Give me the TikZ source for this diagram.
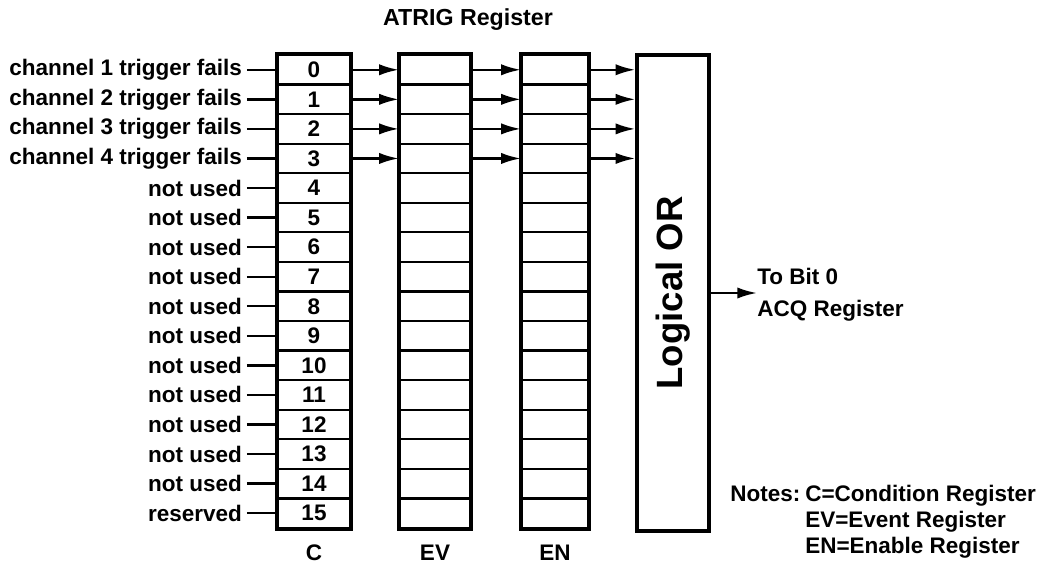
\documentclass[tikz,border=0pt]{standalone}
\usepackage{fontspec}
\setmainfont{Liberation Sans}
\usetikzlibrary{arrows.meta,positioning}

\begin{document}
\begin{tikzpicture}[x=0.025cm,y=-0.025cm,>={Latex[length=14pt,width=8pt]},
    txt/.style={font=\bfseries\fontsize{16}{19}\selectfont},
    cell/.style={draw,line width=1.6pt,inner sep=0pt,minimum width=#1,minimum height=0.739cm,txt},
    frame/.style={line width=2.4pt},
    link/.style={->,line width=1.7pt}]
  \useasboundingbox (0,0) rectangle (1046,570);
  \node[font=\bfseries\fontsize{16.5}{20}\selectfont] (title) at (468,20) {ATRIG Register};
  % the three registers
  \foreach \i in {0,...,15}{
    \node[cell=1.8cm] (c\i) at (314,{55+29.56*(\i+0.5)}) {\i};
    \node[cell=1.75cm] (ev\i) at (435,{55+29.56*(\i+0.5)}) {};
    \node[cell=1.65cm] (en\i) at (555,{55+29.56*(\i+0.5)}) {};
  }
  \draw[frame] (c0.north west) rectangle (c15.south east);
  \draw[frame] (ev0.north west) rectangle (ev15.south east);
  \draw[frame] (en0.north west) rectangle (en15.south east);
  \node[txt,below=0.28cm of c15] (clab) {C};
  \node[txt,below=0.28cm of ev15] (evlab) {EV};
  \node[txt,below=0.28cm of en15] (enlab) {EN};
  % logical or
  \node[draw,frame,minimum width=1.8cm,minimum height=11.9cm,inner sep=0pt] (or) at (673,293) {};
  \node[rotate=90,font=\bfseries\fontsize{26}{30}\selectfont] (ortxt) at (or.center) {Logical OR};
  % inputs
  \foreach \i in {0,...,3}{
    \pgfmathtruncatemacro{\ch}{\i+1}
    \node[txt,left=0.75cm of c\i] (l\i) {channel \ch\ trigger fails};
    \draw[line width=1.7pt] (l\i) -- (c\i);
    \draw[link] (c\i.east) -- (ev\i.west);
    \draw[link] (ev\i.east) -- (en\i.west);
    \draw[link] (en\i.east) -- (en\i.east -| or.west);
  }
  \foreach \i in {4,...,14}{
    \node[txt,left=0.75cm of c\i] (l\i) {not used};
    \draw[line width=1.7pt] (l\i) -- (c\i);
  }
  \node[txt,left=0.75cm of c15] (l15) {reserved};
  \draw[line width=1.7pt] (l15) -- (c15);
  % output
  \node[txt,align=left,anchor=west,inner sep=0pt] (acq) at (757,295) {To Bit 0\\[4pt]ACQ Register};
  \draw[link] (or.east) -- (or.east -| acq.west);
  % notes
  \node[txt,anchor=base west,inner sep=0pt] (notes) at (730,501) {Notes:};
  \node[txt,anchor=base west,inner sep=0pt] (n1) at (805,501) {C=Condition Register};
  \node[txt,anchor=base west,inner sep=0pt] (n2) at (805,527) {EV=Event Register};
  \node[txt,anchor=base west,inner sep=0pt] (n3) at (805,553) {EN=Enable Register};
\end{tikzpicture}
\end{document}
